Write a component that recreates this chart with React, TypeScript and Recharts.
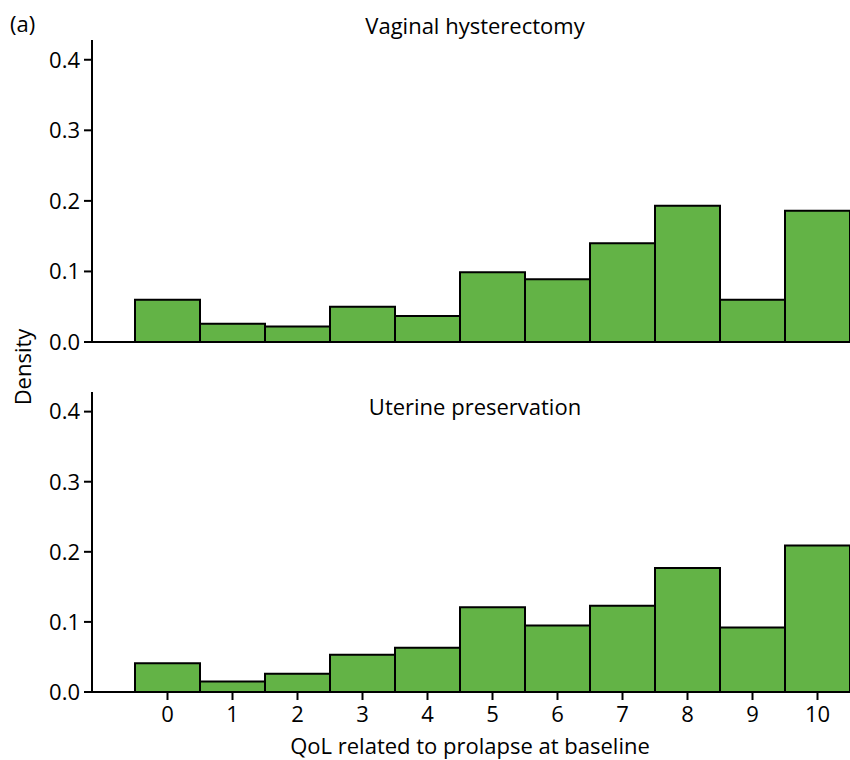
import React from 'react';
import { BarChart, Bar, XAxis, YAxis } from 'recharts';

// QoL score bins shared by both panels
const scores = ['0', '1', '2', '3', '4', '5', '6', '7', '8', '9', '10'];
const vaginalDensity = [0.06, 0.026, 0.022, 0.05, 0.037, 0.099, 0.089, 0.14, 0.193, 0.06, 0.186];
const uterineDensity = [0.041, 0.015, 0.026, 0.053, 0.063, 0.121, 0.095, 0.123, 0.177, 0.092, 0.209];
const yTicks = [0, 0.1, 0.2, 0.3, 0.4];

const FONT = '"Open Sans", "Noto Sans", sans-serif';
const GREEN = '#63b346';

const toRows = (values: number[]) => scores.map((score, i) => ({ score, density: values[i] }));

const tickStyle = { fontSize: 22, fill: '#000', fontFamily: FONT };

interface PanelProps {
  values: number[];
  showTicks: boolean;
  height: number;
  margin: { top: number; right: number; left: number; bottom: number };
}

const Panel: React.FC<PanelProps> = ({ values, showTicks, height, margin }) => (
  <BarChart width={850} height={height} data={toRows(values)} margin={margin} barCategoryGap={0}>
    <XAxis
      dataKey="score"
      padding={{ left: 43, right: 0 }}
      axisLine={{ stroke: '#000', strokeWidth: 2 }}
      tick={showTicks ? tickStyle : false}
      tickLine={showTicks ? { stroke: '#000', strokeWidth: 2 } : false}
      tickSize={8}
      tickMargin={6}
      height={showTicks ? 40 : 2}
      interval={0}
    />
    <YAxis
      domain={[0, 0.428]}
      ticks={yTicks}
      tickFormatter={(v: number) => v.toFixed(1)}
      axisLine={{ stroke: '#000', strokeWidth: 2 }}
      tickLine={{ stroke: '#000', strokeWidth: 2 }}
      tickSize={8}
      tickMargin={4}
      tick={tickStyle}
      width={60}
      allowDataOverflow
    />
    <Bar dataKey="density" fill={GREEN} stroke="#000" strokeWidth={2} isAnimationActive={false} />
  </BarChart>
);

const textStyle: React.CSSProperties = {
  position: 'absolute',
  fontFamily: FONT,
  fontSize: 22,
  color: '#000',
  whiteSpace: 'nowrap',
  lineHeight: '28px',
};

export default function App() {
  return (
    <div style={{ position: 'absolute', left: 0, top: 0, width: 850, height: 760, background: '#fff' }}>
      <div style={{ position: 'absolute', left: 0, top: 0 }}>
        <Panel values={vaginalDensity} showTicks={false} height={365} margin={{ top: 40, right: 0, left: 32, bottom: 21 }} />
      </div>
      <div style={{ position: 'absolute', left: 0, top: 380 }}>
        <Panel values={uterineDensity} showTicks height={380} margin={{ top: 12, right: 0, left: 32, bottom: 28 }} />
      </div>
      <div style={{ ...textStyle, left: 10, top: 9 }}>(a)</div>
      <div style={{ ...textStyle, left: 475, top: 11, transform: 'translateX(-50%)' }}>Vaginal hysterectomy</div>
      <div style={{ ...textStyle, left: 475, top: 392, transform: 'translateX(-50%)' }}>Uterine preservation</div>
      <div style={{ ...textStyle, left: 470, top: 731, transform: 'translateX(-50%)' }}>QoL related to prolapse at baseline</div>
      <div style={{ ...textStyle, left: 22, top: 367, transform: 'translate(-50%, -50%) rotate(-90deg)' }}>Density</div>
    </div>
  );
}
